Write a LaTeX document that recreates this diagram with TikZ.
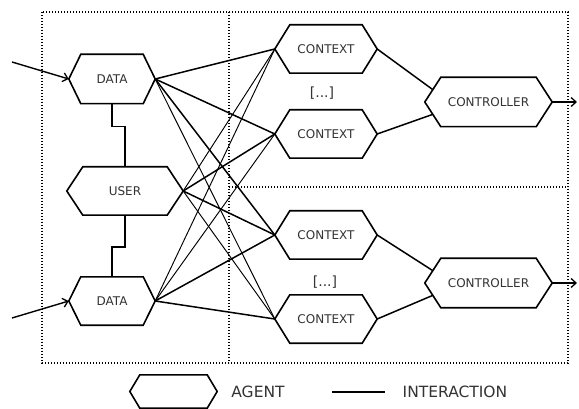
\documentclass[tikz,border=0pt]{standalone}
\usepackage{fontspec}
\setmainfont{DejaVu Sans}
\usetikzlibrary{calc,arrows.meta}
\definecolor{txtgray}{HTML}{333333}
\tikzset{
  agent/.style={rectangle, inner sep=0pt, draw=none, text=txtgray, font=\fontsize{12}{14}\selectfont},
  hexline/.style={draw=black, line width=1.6pt, line join=miter},
  frame/.style={draw=black, line width=1.6pt, dash pattern=on 1.4pt off 1.6pt},
  thickcon/.style={draw=black, line width=1.5pt},
  thincon/.style={draw=black, line width=0.95pt},
  inarrow/.style={draw=black, line width=1.4pt, -{Straight Barb[length=5pt,width=9pt,line width=1.3pt]}},
  legendtext/.style={text=txtgray, inner sep=0pt, font=\fontsize{15.5}{17}\selectfont},
  dots/.style={text=txtgray, inner sep=0pt, font=\fontsize{14}{16}\selectfont}
}
\newcommand\hexagent[2]{%
  \draw[hexline] (#1.west) -- ([xshift=#2]#1.north west) -- ([xshift=-#2]#1.north east)
    -- (#1.east) -- ([xshift=-#2]#1.south east) -- ([xshift=#2]#1.south west) -- cycle;}
\begin{document}
\begin{tikzpicture}[x=1pt,y=-1pt]
\useasboundingbox (0,0) rectangle (579,409);
\fill[white] (0,0) rectangle (579,409);

% frames
\coordinate (fTL) at (42,12);
\coordinate (fBR) at (568,363);
\coordinate (vTop) at (229,12);
\coordinate (vBot) at (229,363);
\coordinate (hL) at (229,187);
\coordinate (hR) at (568,187);
\draw[frame] (fTL) rectangle (fBR);
\draw[frame] (vTop) -- (vBot);
\draw[frame] (hL) -- (hR);

% agents
\node[agent, minimum width=86pt, minimum height=49pt] (d1) at (112,79) {DATA};
\node[agent, minimum width=116pt, minimum height=48pt] (u) at (125,191) {USER};
\node[agent, minimum width=86pt, minimum height=48pt] (d2) at (112,301) {DATA};
\node[agent, minimum width=102pt, minimum height=48pt] (c1) at (326,49) {CONTEXT};
\node[agent, minimum width=102pt, minimum height=48pt] (c2) at (326,134) {CONTEXT};
\node[agent, minimum width=102pt, minimum height=48pt] (c3) at (326,235) {CONTEXT};
\node[agent, minimum width=102pt, minimum height=48pt] (c4) at (326,319) {CONTEXT};
\node[agent, minimum width=127pt, minimum height=49pt] (k1) at (488.5,102) {CONTROLLER};
\node[agent, minimum width=127pt, minimum height=49pt] (k2) at (488.5,283) {CONTROLLER};
\hexagent{d1}{12pt}
\hexagent{u}{16pt}
\hexagent{d2}{12pt}
\hexagent{c1}{15pt}
\hexagent{c2}{15pt}
\hexagent{c3}{15pt}
\hexagent{c4}{15pt}
\hexagent{k1}{16pt}
\hexagent{k2}{16pt}

\node[dots] (e1) at (322,93) {[...]};
\node[dots] (e2) at (325,282) {[...]};

% data/user links
\draw[thickcon] (d1.south) -- ++(0,23) -| (u.north);
\draw[thickcon] (u.south) -- ++(0,32) -| (d2.north);

% interactions to contexts
\draw[thickcon] (d1.east) -- (c1.west);
\draw[thickcon] (d1.east) -- (c2.west);
\draw[thickcon] (d1.east) -- (c3.west);
\draw[thincon] (d1.east) -- (c4.west);
\draw[thincon] (u.east) -- (c1.west);
\draw[thickcon] (u.east) -- (c2.west);
\draw[thickcon] (u.east) -- (c3.west);
\draw[thincon] (u.east) -- (c4.west);
\draw[thincon] (d2.east) -- (c1.west);
\draw[thincon] (d2.east) -- (c2.west);
\draw[thickcon] (d2.east) -- (c3.west);
\draw[thickcon] (d2.east) -- (c4.west);

% contexts to controllers
\coordinate (k1a) at ($(k1.west)!0.5!([xshift=16pt]k1.north west)$);
\coordinate (k1b) at ($(k1.west)!0.5!([xshift=16pt]k1.south west)$);
\coordinate (k2a) at ($(k2.west)!0.5!([xshift=16pt]k2.north west)$);
\coordinate (k2b) at ($(k2.west)!0.5!([xshift=16pt]k2.south west)$);
\draw[thickcon] (c1.east) -- (k1a);
\draw[thickcon] (c2.east) -- (k1b);
\draw[thickcon] (c3.east) -- (k2a);
\draw[thickcon] (c4.east) -- (k2b);

% inputs and outputs
\coordinate (in1) at (12,62);
\coordinate (in2) at (12,318);
\coordinate (out1) at (577,102);
\coordinate (out2) at (577,283);
\draw[inarrow] (in1) -- (d1.west);
\draw[inarrow] (in2) -- (d2.west);
\draw[inarrow] (k1.east) -- (out1);
\draw[inarrow] (k2.east) -- (out2);

% legend
\node[agent, minimum width=87pt, minimum height=33pt] (lg) at (173.5,391.5) {};
\hexagent{lg}{10pt}
\node[legendtext] (lgA) at (258,392) {AGENT};
\coordinate (lgL1) at (332,392);
\coordinate (lgL2) at (385,392);
\draw[thickcon] (lgL1) -- (lgL2);
\node[legendtext] (lgI) at (455,392) {INTERACTION};
\end{tikzpicture}
\end{document}
